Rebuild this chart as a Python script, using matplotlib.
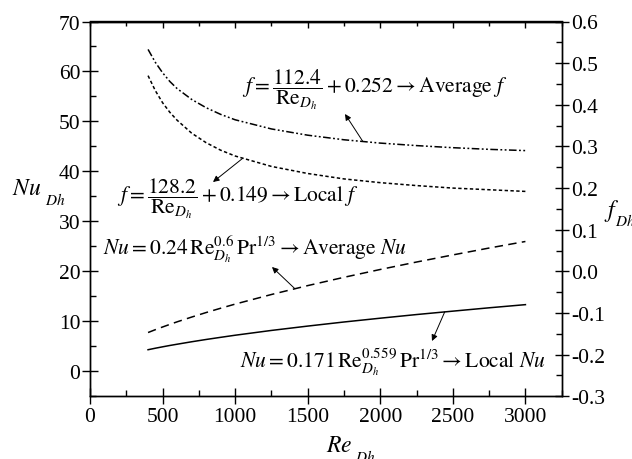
import numpy as np
import matplotlib
matplotlib.use("Agg")
import matplotlib.pyplot as plt
from matplotlib.ticker import MultipleLocator, FormatStrFormatter

plt.rcParams['font.family'] = ['Liberation Serif', 'DejaVu Serif']
plt.rcParams['mathtext.fontset'] = 'stix'
plt.rcParams['axes.unicode_minus'] = False

# Reynolds number samples along each correlation curve
re_dh = [400, 450, 500, 550, 600, 700, 800, 900, 1000, 1250, 1500,
         1750, 2000, 2250, 2500, 2750, 3000]

# friction factor (right axis)
f_average = [0.533, 0.502, 0.477, 0.456, 0.439, 0.413, 0.393, 0.377, 0.364,
             0.342, 0.327, 0.316, 0.308, 0.302, 0.297, 0.293, 0.290]
f_local = [0.470, 0.434, 0.405, 0.382, 0.363, 0.332, 0.309, 0.291, 0.277,
           0.252, 0.235, 0.222, 0.213, 0.206, 0.200, 0.196, 0.192]

# Nusselt number (left axis)
nu_average = [7.76, 8.33, 8.87, 9.39, 9.90, 10.85, 11.76, 12.62, 13.45,
              15.37, 17.15, 18.81, 20.38, 21.87, 23.29, 24.67, 25.98]
nu_local = [4.32, 4.62, 4.90, 5.17, 5.42, 5.91, 6.37, 6.80, 7.22,
            8.18, 9.05, 9.87, 10.63, 11.36, 12.04, 12.71, 13.34]

W, H = 632, 460
fig = plt.figure(figsize=(W / 100, H / 100), dpi=100)
ax = fig.add_axes([90 / W, 1 - 397.3 / H, (561.7 - 90) / W, (397.3 - 22.5) / H])
ax2 = ax.twinx()

lw = 1.1
ax.plot(re_dh, nu_local, color='black', lw=lw, ls='-')
ax.plot(re_dh, nu_average, color='black', lw=lw, dashes=(5.5, 3.5))
ax2.plot(re_dh, f_local, color='black', lw=lw, dashes=(2.2, 1.6))
ax2.plot(re_dh, f_average, color='black', lw=lw,
         dashes=(5, 1.6, 1.2, 1.6, 1.2, 1.6))

ax.set_xlim(0, 3250)
ax.set_ylim(-5, 70)
ax2.set_ylim(-0.3, 0.6)

ax.xaxis.set_major_locator(MultipleLocator(500))
ax.xaxis.set_minor_locator(MultipleLocator(250))
ax.yaxis.set_major_locator(MultipleLocator(10))
ax.yaxis.set_minor_locator(MultipleLocator(5))
ax2.yaxis.set_major_locator(MultipleLocator(0.1))
ax2.yaxis.set_minor_locator(MultipleLocator(0.05))
ax2.yaxis.set_major_formatter(FormatStrFormatter('%.1f'))

tick_fs = 15.5
ax.tick_params(axis='x', which='major', direction='inout', length=12,
               width=1, labelsize=tick_fs, pad=2, top=False)
ax.tick_params(axis='x', which='minor', direction='in', length=4,
               width=1, top=False)
ax.tick_params(axis='y', which='major', direction='inout', length=12,
               width=1, labelsize=tick_fs, pad=1)
ax.tick_params(axis='y', which='minor', direction='in', length=4, width=1)
ax2.tick_params(axis='y', which='major', direction='inout', length=10,
                width=1, labelsize=tick_fs, pad=2)
ax2.tick_params(axis='y', which='minor', direction='in', length=4, width=1)

# inward ticks along the top edge
top = ax.secondary_xaxis('top')
top.xaxis.set_major_locator(MultipleLocator(500))
top.xaxis.set_minor_locator(MultipleLocator(250))
top.tick_params(which='major', direction='in', length=5, width=1,
                labeltop=False)
top.tick_params(which='minor', direction='in', length=3.5, width=1)
top.set_xticks([t for t in range(500, 3001, 500)])
top.set_xticklabels([])

for a in (ax, ax2):
    for s in a.spines.values():
        s.set_linewidth(1.0)
top.spines['top'].set_linewidth(1.0)


def px(xp, yp):
    return (xp / W, 1 - yp / H)


# axis titles: italic symbol with a lowered, smaller subscript
def axis_title(symbol, sub, x_left, base_y, sub_x, sub_base_y):
    fig.text(*px(x_left, base_y), symbol, fontsize=17, ha='left',
             va='baseline')
    fig.text(*px(sub_x, sub_base_y), sub, fontsize=11, ha='left',
             va='baseline')


axis_title(r'$Nu$', r'$Dh$', 12, 195, 45, 205)
axis_title(r'$Re$', r'$Dh$', 326, 452, 355, 462)
axis_title(r'$f$', r'$Dh$', 604, 217, 615, 226)

eq_fs = 15.5
fig.text(242 / W, 1 - 90 / H,
         r'$f=\dfrac{112.4}{\mathrm{Re}_{D_h}}+0.252\rightarrow\mathrm{Average}\ f$',
         fontsize=eq_fs, ha='left', va='center')
fig.text(117 / W, 1 - 199 / H,
         r'$f=\dfrac{128.2}{\mathrm{Re}_{D_h}}+0.149\rightarrow\mathrm{Local}\ f$',
         fontsize=eq_fs, ha='left', va='center')
fig.text(103 / W, 1 - 249 / H,
         r'$Nu=0.24\,\mathrm{Re}_{D_h}^{0.6}\,\mathrm{Pr}^{1/3}\rightarrow\mathrm{Average}\ Nu$',
         fontsize=eq_fs, ha='left', va='center')
fig.text(240 / W, 1 - 362 / H,
         r'$Nu=0.171\,\mathrm{Re}_{D_h}^{0.559}\,\mathrm{Pr}^{1/3}\rightarrow\mathrm{Local}\ Nu$',
         fontsize=eq_fs, ha='left', va='center')

# leader arrows from each curve to its equation
arrow = dict(arrowstyle='-|>', color='black', lw=0.7,
             mutation_scale=9, shrinkA=0, shrinkB=0)


def leader(axis, xs, ys, x_tail, head_px):
    y_tail = np.interp(x_tail, xs, ys)
    axis.annotate('', xy=px(*head_px), xycoords='figure fraction',
                  xytext=(x_tail, y_tail), textcoords='data',
                  arrowprops=arrow)


leader(ax2, re_dh, f_average, 1880, (345, 115))
leader(ax2, re_dh, f_local, 1053, (213, 183))
leader(ax, re_dh, nu_average, 1412, (272, 268))
leader(ax, re_dh, nu_local, 2444, (432, 342))

fig.savefig('out.png', dpi=100)
